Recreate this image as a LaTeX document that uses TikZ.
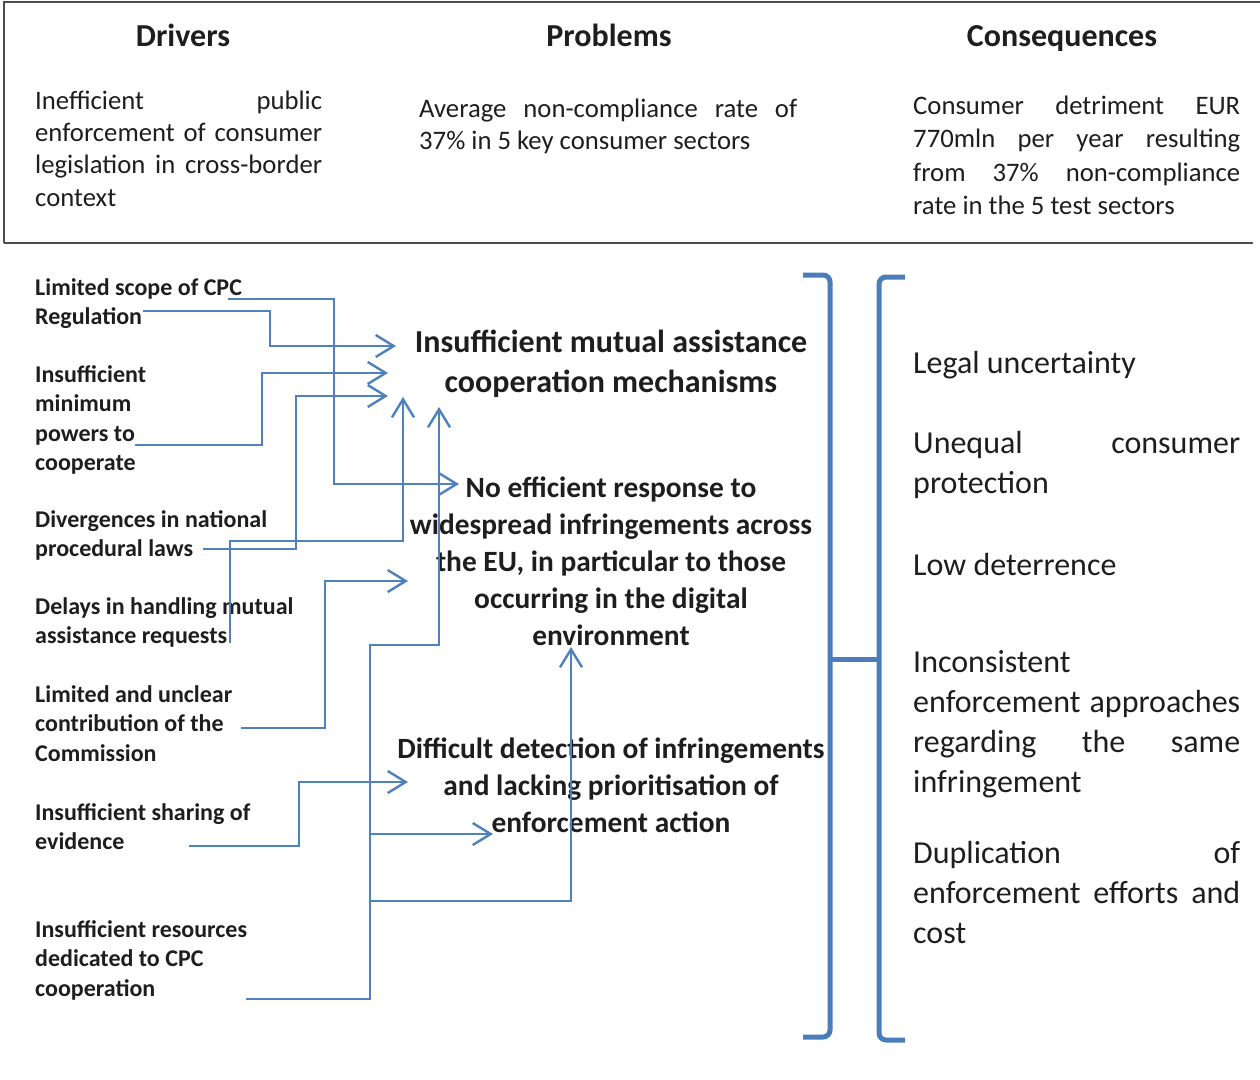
\documentclass[tikz,border=0pt]{standalone}
\usepackage{fontspec}
\setmainfont{Carlito}
\usetikzlibrary{arrows.meta}

\definecolor{linkblue}{HTML}{4F81BD}
\definecolor{bracketblue}{HTML}{4A7DBA}
\definecolor{framegray}{HTML}{4D4D4D}
\definecolor{inkgray}{HTML}{1E1E1E}

% one justified line of a paragraph
\newcommand{\jline}[1]{\leavevmode\hbox to \hsize{\spaceskip=0.22em plus 1fil\relax #1}}

\tikzset{
  plain spaces/.style={execute at begin node={\spaceskip=\fontdimen2\font\xspaceskip=\fontdimen2\font\relax}},
  head/.style={font=\fontsize{32}{38}\selectfont\bfseries, anchor=base, inner sep=0pt, text=inkgray},
  body/.style={font=\fontsize{26.7}{32.4}\selectfont, anchor=base west, align=left, plain spaces, inner sep=0pt, text=inkgray},
  driver/.style={font=\fontsize{24}{29.6}\selectfont\bfseries, anchor=base west, align=left, plain spaces, inner sep=0pt, text width=300pt, text=inkgray},
  problem/.style={font=\fontsize{29.4}{37}\selectfont\bfseries, anchor=base, align=center, plain spaces, inner sep=0pt, text width=470pt, text=inkgray},
  conseq/.style={font=\fontsize{32}{40.3}\selectfont, anchor=base west, align=left, plain spaces, inner sep=0pt, text width=327pt, text=inkgray},
  link/.style={linkblue, line width=2.4pt, -{Straight Barb[length=18pt,width=22pt]}},
  bracket/.style={bracketblue, line width=5pt, rounded corners=7pt},
}

\begin{document}
\begin{tikzpicture}[x=1pt, y=-1pt]

  \useasboundingbox (0,0) rectangle (1260,1079);
  \fill[white] (0,0) rectangle (1260,1079);

  % top frame
  \draw[framegray, line width=1.5pt] (1260,2) -- (4,2) -- (4,243);
  \draw[framegray, line width=2.5pt] (4,243) -- (1253,243);

  \node[head] (drv-head) at (183,46) {Drivers};
  \node[head] (prb-head) at (609,46) {Problems};
  \node[head] (csq-head) at (1062,46) {Consequences};

  \node[body, text width=287pt] (drv-text) at (35,109)
    {\jline{Inefficient public}\\\jline{enforcement of consumer}\\\jline{legislation in cross-border}\\context};
  \node[body, text width=378pt] (prb-text) at (419,117)
    {\jline{Average non-compliance rate of}\\37\% in 5 key consumer sectors};
  \node[body, text width=327pt, font=\fontsize{26.7}{33.6}\selectfont] (csq-text) at (913,114)
    {\jline{Consumer detriment EUR}\\\jline{770mln per year resulting}\\\jline{from 37\% non-compliance}\\rate in the 5 test sectors};

  % drivers
  \node[driver] (scope) at (35,295) {Limited scope of CPC\\Regulation};
  \node[driver] (powers) at (35,382) {Insufficient\\minimum\\powers to\\cooperate};
  \node[driver] (diverg) at (35,527) {Divergences in national\\procedural laws};
  \node[driver] (delays) at (35,614) {Delays in handling mutual\\assistance requests};
  \node[driver] (commis) at (35,702) {Limited and unclear\\contribution of the\\Commission};
  \node[driver] (sharing) at (35,820) {Insufficient sharing of\\evidence};
  \node[driver] (resources) at (35,937) {Insufficient resources\\dedicated to CPC\\cooperation};

  % problems
  \node[problem, font=\fontsize{32}{40}\selectfont\bfseries] (mutual) at (611,352)
    {Insufficient mutual assistance\\cooperation mechanisms};
  \node[problem] (response) at (611,497)
    {No efficient response to\\widespread infringements across\\the EU, in particular to those\\occurring in the digital\\environment};
  \node[problem] (detect) at (611,758)
    {Difficult detection of infringements\\and lacking prioritisation of\\enforcement action};

  % consequences
  \node[conseq] (legal) at (913,373) {Legal uncertainty};
  \node[conseq] (unequal) at (913,453) {\jline{Unequal consumer}\\protection};
  \node[conseq] (deter) at (913,575) {Low deterrence};
  \node[conseq] (incons) at (913,672)
    {Inconsistent\\\jline{enforcement approaches}\\\jline{regarding the same}\\infringement};
  \node[conseq] (dupl) at (913,863) {\jline{Duplication of}\\\jline{enforcement efforts and}\\cost};

  % connector ends
  \coordinate (scope-a) at (228,299);
  \coordinate (scope-b) at (143,311);
  \coordinate (powers-a) at (135,445);
  \coordinate (diverg-a) at (203,549);
  \coordinate (delays-a) at (230,643);
  \coordinate (commis-a) at (241,728);
  \coordinate (sharing-a) at (189,846);
  \coordinate (resources-a) at (246,999);
  \coordinate (trunk-a) at (370,834);
  \coordinate (trunk-b) at (370,901);

  \coordinate (mutual-in1) at (396,346);
  \coordinate (mutual-in2) at (388,373);
  \coordinate (mutual-in3) at (388,396);
  \coordinate (mutual-in4) at (403,397);
  \coordinate (mutual-in5) at (439,407);
  \coordinate (response-in1) at (459,484);
  \coordinate (response-in2) at (408,581);
  \coordinate (response-in3) at (571,647);
  \coordinate (detect-in1) at (408,782);
  \coordinate (detect-in2) at (493,834);

  \draw[link] (scope-a) -| (334,484) -- (response-in1);
  \draw[link] (scope-b) -| (270,346) -- (mutual-in1);
  \draw[link] (powers-a) -| (262,373) -- (mutual-in2);
  \draw[link] (diverg-a) -| (296,396) -- (mutual-in3);
  \draw[link] (delays-a) |- (403,541) -- (mutual-in4);
  \draw[link] (commis-a) -| (325,581) -- (response-in2);
  \draw[link] (sharing-a) -| (299,782) -- (detect-in1);
  \draw[link] (resources-a) -| (370,645) -| (mutual-in5);
  \draw[link] (trunk-a) -- (detect-in2);
  \draw[link] (trunk-b) -| (response-in3);

  % brackets
  \draw[bracket] (803,275) -| (830,659) |- (803,1037);
  \draw[bracket] (905,277) -| (879,659) |- (905,1040);
  \draw[bracketblue, line width=5pt] (830,659) -- (879,659);

\end{tikzpicture}
\end{document}
